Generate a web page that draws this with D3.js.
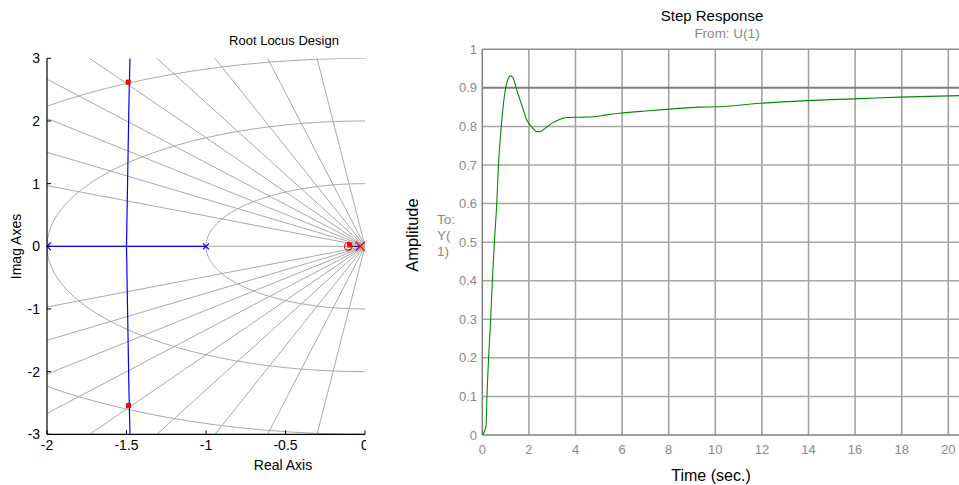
<!DOCTYPE html>
<html>
<head>
<meta charset="utf-8">
<script src="https://cdn.jsdelivr.net/npm/d3@7"></script>
<style>
  html, body { margin: 0; padding: 0; background: #fff; }
  svg { display: block; font-family: "Liberation Sans", Arial, sans-serif; }
</style>
</head>
<body>
<svg id="chart" width="959" height="485"></svg>
<script>
// ---- Root locus data ----
const realTicks = [-2, -1.5, -1, -0.5, 0];
const imagTicks = [-3, -2, -1, 0, 1, 2, 3];
const dampingRatios = [0.1, 0.2, 0.3, 0.4, 0.5, 0.6, 0.7, 0.8, 0.9, 1.0];
const naturalFreqs = [1, 2, 3];
// complex branch of the locus (upper half; lower half mirrors it)
const branchReal = [-1.5, -1.495, -1.49, -1.485, -1.478];
const branchImag = [0, 0.75, 1.5, 2.25, 3.0];
const realBranch = [-2, -1];           // real-axis locus segment
const plantPoles = [-1];               // blue x
const compZero = [-0.105];             // red o
const compPole = [-0.03];              // red x
const closedLoopRe = [-1.489, -1.487, -0.097];
const closedLoopIm = [2.62, -2.54, 0.02];

// ---- Step response data ----
const timeTicks = [0, 2, 4, 6, 8, 10, 12, 14, 16, 18, 20];
const ampTicks = [0, 0.1, 0.2, 0.3, 0.4, 0.5, 0.6, 0.7, 0.8, 0.9, 1];
const stepTime = [0, 0.16, 0.2, 0.27, 0.36, 0.43, 0.52, 0.62, 0.69, 0.79, 0.88, 1.02, 1.12, 1.22,
  1.33, 1.48, 1.62, 1.76, 1.9, 2.12, 2.33, 2.48, 2.69, 2.98, 3.26, 3.62, 4.19, 4.76, 5.34, 5.9,
  7.0, 8.05, 9.34, 10.2, 11.92, 13.92, 16.2, 17.9, 20.5];
const stepAmp = [0, 0.022, 0.1, 0.2, 0.3, 0.4, 0.5, 0.6, 0.696, 0.782, 0.843, 0.905, 0.925, 0.931,
  0.925, 0.894, 0.869, 0.843, 0.818, 0.799, 0.787, 0.787, 0.795, 0.808, 0.817, 0.823, 0.824, 0.825,
  0.83, 0.834, 0.84, 0.845, 0.85, 0.851, 0.86, 0.867, 0.872, 0.876, 0.88];

const svg = d3.select("#chart");
const defs = svg.append("defs");

// ================= Root locus panel =================
const rx = d3.scaleLinear().domain([-2, 0]).range([47, 365]);
const ry = d3.scaleLinear().domain([-3, 3]).range([434.3, 58.3]);

defs.append("clipPath").attr("id", "rlPlot").append("rect")
  .attr("x", rx(-2)).attr("y", ry(3)).attr("width", rx(0) - rx(-2)).attr("height", ry(-3) - ry(3));
defs.append("clipPath").attr("id", "rlPanel").append("rect")
  .attr("x", 0).attr("y", 0).attr("width", 366).attr("height", 485);

const left = svg.append("g").attr("clip-path", "url(#rlPanel)");
const plot = left.append("g").attr("clip-path", "url(#rlPlot)");
const gridColor = "#a9a9a9";

// damping-ratio rays
dampingRatios.forEach(z => {
  const w = Math.sqrt(1 - z * z);
  [1, -1].forEach(sgn => {
    if (z === 1 && sgn === -1) return;
    plot.append("line")
      .attr("x1", rx(0)).attr("y1", ry(0))
      .attr("x2", rx(-z * 10)).attr("y2", ry(sgn * w * 10))
      .attr("stroke", gridColor).attr("stroke-width", 1);
  });
});

// natural-frequency semicircles
const arc = d3.line().x(d => rx(d[0])).y(d => ry(d[1]));
naturalFreqs.forEach(wn => {
  const pts = d3.range(90, 270.01, 3).map(a => {
    const r = a * Math.PI / 180;
    return [wn * Math.cos(r), wn * Math.sin(r)];
  });
  plot.append("path").attr("d", arc(pts))
    .attr("fill", "none").attr("stroke", gridColor).attr("stroke-width", 1);
});

// locus branches
const blue = "#0000ff";
plot.append("line")
  .attr("x1", rx(realBranch[0])).attr("y1", ry(0))
  .attr("x2", rx(realBranch[1])).attr("y2", ry(0))
  .attr("stroke", blue).attr("stroke-width", 1.2);
[1, -1].forEach(sgn => {
  const pts = branchReal.map((r, i) => [r, sgn * branchImag[i]]);
  plot.append("path").attr("d", arc(pts))
    .attr("fill", "none").attr("stroke", blue).attr("stroke-width", 1.2);
});
plot.append("line")
  .attr("x1", rx(compZero[0])).attr("y1", ry(0))
  .attr("x2", rx(compPole[0])).attr("y2", ry(0))
  .attr("stroke", blue).attr("stroke-width", 1.2);

// arrow where the real-axis branch leaves the view
left.append("path")
  .attr("d", `M${rx(-2) + 4},${ry(0) - 4} L${rx(-2)},${ry(0)} L${rx(-2) + 4},${ry(0) + 4}`)
  .attr("fill", "none").attr("stroke", blue).attr("stroke-width", 1.2);

// open-loop plant pole
plantPoles.forEach(p => {
  const cx = rx(p), cy = ry(0), s = 3;
  left.append("path").attr("d", `M${cx - s},${cy - s}L${cx + s},${cy + s}M${cx - s},${cy + s}L${cx + s},${cy - s}`)
    .attr("stroke", blue).attr("stroke-width", 1.2);
});

// compensator zero and pole
const red = "#ff0000";
compZero.forEach(z => {
  left.append("circle").attr("cx", rx(z)).attr("cy", ry(0)).attr("r", 3.8)
    .attr("fill", "none").attr("stroke", red).attr("stroke-width", 1.2);
});
compPole.forEach(p => {
  const cx = rx(p), cy = ry(0), s = 4.5;
  left.append("path").attr("d", `M${cx - s},${cy - s}L${cx + s},${cy + s}M${cx - s},${cy + s}L${cx + s},${cy - s}`)
    .attr("stroke", red).attr("stroke-width", 1.3);
});
// closed-loop poles
closedLoopRe.forEach((r, i) => {
  left.append("rect")
    .attr("x", rx(r) - 2.5).attr("y", ry(closedLoopIm[i]) - 2.5)
    .attr("width", 5).attr("height", 5).attr("fill", red);
});

// axes (left and bottom only, ticks inward)
const axisFont = 14;
left.append("line").attr("x1", rx(-2)).attr("x2", rx(-2)).attr("y1", ry(3)).attr("y2", ry(-3))
  .attr("stroke", "#000").attr("stroke-width", 1.2);
left.append("line").attr("x1", rx(-2)).attr("x2", rx(0)).attr("y1", ry(-3)).attr("y2", ry(-3))
  .attr("stroke", "#000").attr("stroke-width", 1.2);
imagTicks.forEach(v => {
  left.append("line").attr("x1", rx(-2)).attr("x2", rx(-2) + 4).attr("y1", ry(v)).attr("y2", ry(v))
    .attr("stroke", "#000");
  left.append("text").attr("x", 40).attr("y", ry(v) + 5)
    .attr("text-anchor", "end").attr("font-size", axisFont).attr("fill", "#000").text(v);
});
realTicks.forEach(v => {
  left.append("line").attr("x1", rx(v)).attr("x2", rx(v)).attr("y1", ry(-3)).attr("y2", ry(-3) - 4)
    .attr("stroke", "#000");
  left.append("text").attr("x", rx(v)).attr("y", 450)
    .attr("text-anchor", "middle").attr("font-size", axisFont).attr("fill", "#000").text(v);
});
left.append("text").attr("x", 283).attr("y", 470).attr("text-anchor", "middle")
  .attr("font-size", 14).attr("fill", "#000").text("Real Axis");
left.append("text").attr("transform", "translate(21,246.5) rotate(-90)").attr("text-anchor", "middle")
  .attr("font-size", 14).attr("fill", "#000").text("Imag Axes");
left.append("text").attr("x", 284).attr("y", 45).attr("text-anchor", "middle")
  .attr("font-size", 13).attr("fill", "#000").text("Root Locus Design");

// ================= Step response panel =================
const tx = d3.scaleLinear().domain([0, 20]).range([482.3, 948.3]);
const ay = d3.scaleLinear().domain([0, 1]).range([435, 49.3]);

defs.append("clipPath").attr("id", "srPlot").append("rect")
  .attr("x", tx(0)).attr("y", ay(1)).attr("width", 959 - tx(0)).attr("height", ay(0) - ay(1));

const right = svg.append("g");
const grid = right.append("g");
const lineGray = "#9e9e9e";
const tickGray = "#8a8a8a";

timeTicks.forEach(t => {
  if (t === 0) return;
  grid.append("line").attr("x1", tx(t)).attr("x2", tx(t)).attr("y1", ay(1)).attr("y2", ay(0))
    .attr("stroke", lineGray).attr("stroke-width", 1.5);
});
ampTicks.forEach(a => {
  if (a === 0 || a === 1) return;
  grid.append("line").attr("x1", tx(0)).attr("x2", 959).attr("y1", ay(a)).attr("y2", ay(a))
    .attr("stroke", a === 0.9 ? "#7d7d7d" : "#a6a6a6").attr("stroke-width", a === 0.9 ? 2 : 1.5);
});
// frame
right.append("line").attr("x1", tx(0)).attr("x2", 959).attr("y1", ay(1)).attr("y2", ay(1))
  .attr("stroke", "#8c8c8c").attr("stroke-width", 1.5);
right.append("line").attr("x1", tx(0)).attr("x2", 959).attr("y1", ay(0)).attr("y2", ay(0))
  .attr("stroke", "#808080").attr("stroke-width", 1.5);
right.append("line").attr("x1", tx(0)).attr("x2", tx(0)).attr("y1", ay(1)).attr("y2", ay(0))
  .attr("stroke", "#808080").attr("stroke-width", 1.5);

// response trace
const stepLine = d3.line()
  .x((d, i) => tx(stepTime[i]))
  .y(d => ay(d))
  .curve(d3.curveMonotoneX);
right.append("path").attr("clip-path", "url(#srPlot)")
  .attr("d", stepLine(stepAmp))
  .attr("fill", "none").attr("stroke", "#008a00").attr("stroke-width", 1.1);

// tick labels
ampTicks.forEach(a => {
  right.append("text").attr("x", 477).attr("y", ay(a) + 4.5)
    .attr("text-anchor", "end").attr("font-size", 13).attr("fill", tickGray).text(a);
});
timeTicks.forEach(t => {
  right.append("text").attr("x", tx(t)).attr("y", 454)
    .attr("text-anchor", "middle").attr("font-size", 13).attr("fill", tickGray).text(t);
});

// titles and labels
right.append("text").attr("x", 712).attr("y", 21).attr("text-anchor", "middle")
  .attr("font-size", 15).attr("fill", "#000").text("Step Response");
right.append("text").attr("x", 727).attr("y", 38).attr("text-anchor", "middle")
  .attr("font-size", 13.5).attr("fill", tickGray).text("From: U(1)");
right.append("text").attr("x", 711).attr("y", 481).attr("text-anchor", "middle")
  .attr("font-size", 16).attr("fill", "#000").text("Time (sec.)");
right.append("text").attr("transform", "translate(418,235) rotate(-90)").attr("text-anchor", "middle")
  .attr("font-size", 16.5).attr("fill", "#000").text("Amplitude");
["To:", "Y(", "1)"].forEach((s, i) => {
  right.append("text").attr("x", 437).attr("y", 224 + i * 16)
    .attr("font-size", 13.5).attr("fill", tickGray).text(s);
});
</script>
</body>
</html>
